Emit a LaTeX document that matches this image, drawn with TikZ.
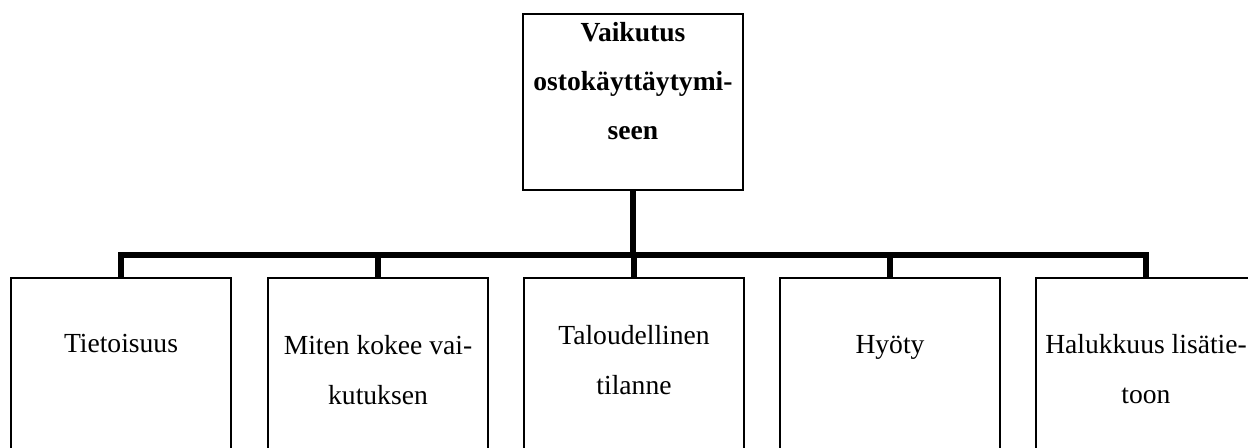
\documentclass[tikz,border=0pt]{standalone}
\usepackage{fontspec}
\setmainfont{Liberation Serif}
\usetikzlibrary{positioning}

\tikzset{
  box/.style={draw, line width=0.85pt, minimum width=4.4cm, minimum height=3.52cm, inner sep=0pt},
  txt/.style={anchor=north, inner sep=0pt, align=center, font=\fontsize{15.7}{28.4}\selectfont},
  conn/.style={line width=3.4pt}
}

\begin{document}
\begin{tikzpicture}[x=0.02cm, y=-0.02cm]
  \useasboundingbox (0,0) rectangle (1248,448);
  % boxes
  \node[box] (top)    at (633,102) {};
  \node[box] (tieto)  at (121,366) {};
  \node[box] (miten)  at (378,366) {};
  \node[box] (talous) at (634,366) {};
  \node[box] (hyoty)  at (890,366) {};
  \node[box] (halu)   at (1146,366) {};
  % texts
  \node[txt, font=\fontsize{15.7}{27.8}\selectfont\bfseries] (top-t) at (633,22) {Vaikutus\\ostokäyttäytymi-\\seen};
  \node[txt] (tieto-t)  at (121,334)  {Tietoisuus};
  \node[txt] (miten-t)  at (378,335)  {Miten kokee vai-\\kutuksen};
  \node[txt] (talous-t) at (634,325)  {Taloudellinen\\tilanne};
  \node[txt] (hyoty-t)  at (890,335)  {Hyöty};
  \node[txt] (halu-t)   at (1146,334) {Halukkuus lisätie-\\toon};
  % connectors
  \draw[conn] (top.south) -- ++(0,64) -| (tieto.north);
  \draw[conn] (top.south) -- ++(0,64) -| (miten.north);
  \draw[conn] (top.south) -- ++(0,64) -| (talous.north);
  \draw[conn] (top.south) -- ++(0,64) -| (hyoty.north);
  \draw[conn] (top.south) -- ++(0,64) -| (halu.north);
\end{tikzpicture}
\end{document}
